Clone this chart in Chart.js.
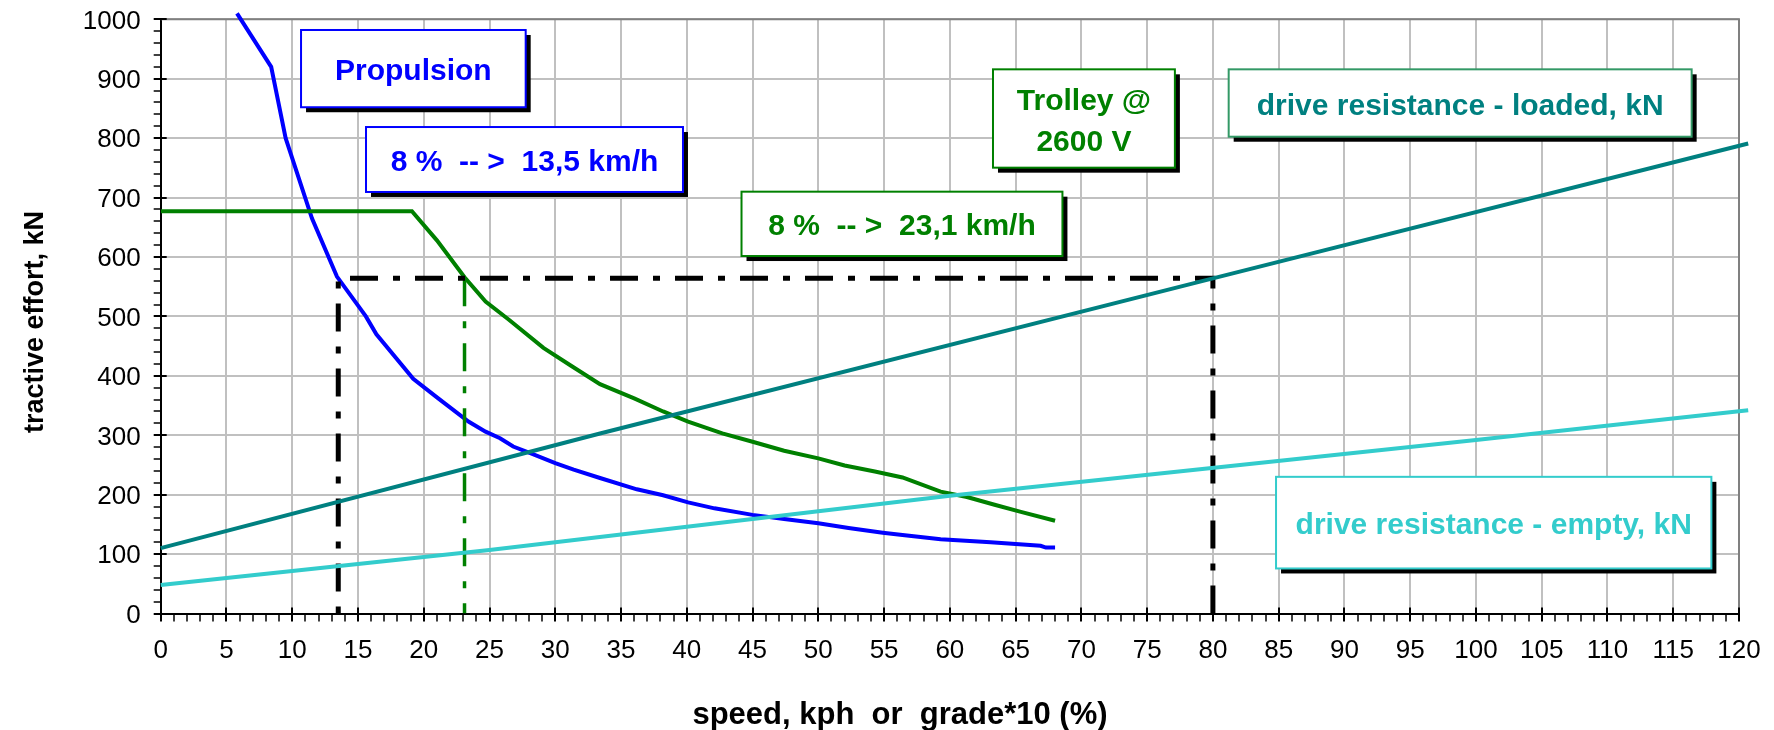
<!DOCTYPE html>
<html lang="en">
<head>
    <meta charset="UTF-8">
    <title>Tractive effort vs speed</title>
    <script src="https://cdn.jsdelivr.net/npm/chart.js"></script>
    <style>
        body {
            margin: 0;
            background-color: white;
        }
        #wrap {
            width: 1774px;
            height: 730px;
        }
    </style>
</head>
<body>
    <div id="wrap">
        <canvas id="tractionChart" width="1774" height="730"></canvas>
    </div>

    <script>
        // Data (speed in km/h, force in kN)
        const propSpeed = [5.8, 8.4, 9.5, 11.5, 13.4, 15.6, 16.4, 19.2, 21.1, 23.4, 24.7, 25.8, 26.8, 28.1, 30.0, 31.4, 33.4, 36.2, 38.2, 40.1, 42.1, 45.0, 47.4, 50.0, 52.3, 54.9, 56.4, 59.3, 63.1, 66.9, 67.3, 68.0];
        const propForce = [1010, 920, 800, 665, 567, 500, 470, 395, 362, 323, 306, 295, 281, 270, 253, 242, 228, 209, 199, 187, 177, 166, 159, 152, 144, 136, 132, 125, 120, 114, 111, 111];

        const trolleySpeed = [0, 19.1, 21.0, 23.1, 24.7, 26.5, 29.1, 31.2, 33.4, 36.0, 38.2, 40.1, 42.7, 45.0, 47.4, 50.0, 52.0, 54.3, 56.4, 59.3, 61.3, 63.4, 65.4, 68.0];
        const trolleyForce = [677, 677, 628, 566, 525, 494, 447, 417, 386, 362, 340, 323, 303, 289, 274, 261, 249, 239, 229, 205, 196, 183, 171, 156];

        const loadedSpeed = [0, 33.4, 80, 120.7];
        const loadedForce = [110, 303, 564, 791];

        const emptySpeed = [0, 25, 60, 100, 120.7];
        const emptyForce = [48, 107, 198, 292, 342];

        // 8 % grade lines: 564 kN, reached at 13,5 / 23,1 / 80 km/h
        const gradeBlackX = [80, 80, 13.5, 13.5];
        const gradeBlackY = [0, 564, 564, 0];
        const gradeGreenX = [23.1, 23.1];
        const gradeGreenY = [564, 0];

        const xTicks = { min: 0, max: 120, step: 5, minor: 1 };
        const yTicks = { min: 0, max: 1000, step: 100, minor: 20 };

        const FONT = "'Liberation Sans', Arial, sans-serif";

        function pts(xs, ys) {
            return xs.map((v, i) => ({ x: v, y: ys[i] }));
        }

        // text boxes, placed in axis units
        const notes = [
            { x0: 10.67, x1: 27.75, y0: 982, y1: 852, lines: ['Propulsion'], color: '#0000FF', border: '#0000FF' },
            { x0: 15.61, x1: 39.71, y0: 818.7, y1: 709.4, lines: ['8 %  -- >  13,5 km/h'], color: '#0000FF', border: '#0000FF' },
            { x0: 63.28, x1: 77.11, y0: 915.8, y1: 750.3, lines: ['Trolley @', '2600 V'], color: '#008000', border: '#008000' },
            { x0: 44.16, x1: 68.56, y0: 709.9, y1: 601.6, lines: ['8 %  -- >  23,1 km/h'], color: '#008000', border: '#008000' },
            { x0: 81.2, x1: 116.4, y0: 915.8, y1: 802.4, lines: ['drive resistance - loaded, kN'], color: '#008080', border: '#339966' },
            { x0: 84.8, x1: 117.9, y0: 230, y1: 75.8, lines: ['drive resistance - empty, kN'], color: '#33CCCC', border: '#33CCCC' }
        ];

        const framePlugin = {
            id: 'frame',
            beforeDatasetsDraw(chart) {
                const { ctx, chartArea: a, scales: { x, y } } = chart;
                ctx.save();
                // top and right border
                ctx.strokeStyle = '#808080';
                ctx.lineWidth = 2;
                ctx.beginPath();
                ctx.moveTo(a.left, a.top);
                ctx.lineTo(a.right, a.top);
                ctx.lineTo(a.right, a.bottom);
                ctx.stroke();

                // tick marks
                ctx.strokeStyle = '#000';
                for (let v = xTicks.min; v <= xTicks.max; v += xTicks.minor) {
                    const px = Math.round(x.getPixelForValue(v));
                    const major = v % xTicks.step === 0;
                    ctx.lineWidth = major ? 2 : 1.5;
                    ctx.beginPath();
                    ctx.moveTo(px, major ? a.bottom - 6 : a.bottom);
                    ctx.lineTo(px, a.bottom + 8);
                    ctx.stroke();
                }
                for (let v = yTicks.min; v <= yTicks.max; v += yTicks.minor) {
                    const py = Math.round(y.getPixelForValue(v));
                    const major = v % yTicks.step === 0;
                    ctx.lineWidth = major ? 2 : 1.5;
                    ctx.beginPath();
                    ctx.moveTo(a.left - 7, py);
                    ctx.lineTo(major ? a.left + 6 : a.left, py);
                    ctx.stroke();
                }

                // tick labels
                ctx.fillStyle = '#000';
                ctx.font = '26px ' + FONT;
                ctx.textBaseline = 'alphabetic';
                ctx.textAlign = 'center';
                for (let v = xTicks.min; v <= xTicks.max; v += xTicks.step) {
                    ctx.fillText(String(v), x.getPixelForValue(v), 658);
                }
                ctx.textAlign = 'right';
                for (let v = yTicks.min; v <= yTicks.max; v += yTicks.step) {
                    ctx.fillText(String(v), a.left - 20, y.getPixelForValue(v) + 9.3);
                }
                ctx.restore();
            },
            afterDatasetsDraw(chart) {
                const { ctx, scales: { x, y } } = chart;
                ctx.save();
                ctx.font = 'bold 30px ' + FONT;
                ctx.textAlign = 'center';
                ctx.textBaseline = 'alphabetic';
                notes.forEach(n => {
                    const l = x.getPixelForValue(n.x0), r = x.getPixelForValue(n.x1);
                    const t = y.getPixelForValue(n.y0), b = y.getPixelForValue(n.y1);
                    ctx.fillStyle = '#000';
                    ctx.fillRect(l + 5, t + 5, r - l, b - t);
                    ctx.fillStyle = '#fff';
                    ctx.fillRect(l, t, r - l, b - t);
                    ctx.strokeStyle = n.border;
                    ctx.lineWidth = 2;
                    ctx.strokeRect(l, t, r - l, b - t);
                    ctx.fillStyle = n.color;
                    const cx = (l + r) / 2, cy = (t + b) / 2;
                    n.lines.forEach((s, i) => {
                        ctx.fillText(s, cx, cy + 11.5 + (i - (n.lines.length - 1) / 2) * 41);
                    });
                });

                // axis titles
                ctx.fillStyle = '#000';
                ctx.font = 'bold 31px ' + FONT;
                ctx.fillText('speed, kph  or  grade*10 (%)', 900, 724);
                ctx.font = 'bold 27px ' + FONT;
                ctx.translate(43, 322);
                ctx.rotate(-Math.PI / 2);
                ctx.fillText('tractive effort, kN', 0, 0);
                ctx.restore();
            }
        };

        const lineStyle = {
            showLine: true,
            pointRadius: 0,
            pointHoverRadius: 0,
            borderWidth: 4,
            tension: 0
        };

        new Chart(document.getElementById('tractionChart'), {
            type: 'scatter',
            data: {
                datasets: [
                    { ...lineStyle, label: 'drive resistance - empty', data: pts(emptySpeed, emptyForce), borderColor: '#33CCCC', clip: false },
                    { ...lineStyle, label: 'drive resistance - loaded', data: pts(loadedSpeed, loadedForce), borderColor: '#008080', clip: false },
                    { ...lineStyle, label: '8 % grade', data: pts(gradeBlackX, gradeBlackY), borderColor: '#000000', borderWidth: 5, borderDash: [28, 15, 7, 15] },
                    { ...lineStyle, label: '8 % grade trolley', data: pts(gradeGreenX, gradeGreenY), borderColor: '#008000', borderWidth: 3.5, borderDash: [28, 15, 7, 15] },
                    { ...lineStyle, label: 'Trolley @ 2600 V', data: pts(trolleySpeed, trolleyForce), borderColor: '#008000' },
                    { ...lineStyle, label: 'Propulsion', data: pts(propSpeed, propForce), borderColor: '#0000FF', clip: { left: 0, top: 10, right: 0, bottom: 0 } }
                ]
            },
            options: {
                responsive: false,
                animation: false,
                devicePixelRatio: 1,
                layout: { padding: { left: 0, top: 19.3, right: 35, bottom: 0 } },
                plugins: {
                    legend: { display: false },
                    tooltip: { enabled: false }
                },
                scales: {
                    x: {
                        type: 'linear',
                        min: xTicks.min,
                        max: xTicks.max,
                        afterFit: s => { s.height = 116.5; },
                        ticks: { stepSize: xTicks.step, display: false },
                        grid: { color: '#C0C0C0', lineWidth: 2, drawTicks: false },
                        border: { color: '#000', width: 2 }
                    },
                    y: {
                        type: 'linear',
                        min: yTicks.min,
                        max: yTicks.max,
                        afterFit: s => { s.width = 160.7; },
                        ticks: { stepSize: yTicks.step, display: false },
                        grid: { color: '#C0C0C0', lineWidth: 2, drawTicks: false },
                        border: { color: '#000', width: 2 }
                    }
                }
            },
            plugins: [framePlugin]
        });
    </script>
</body>
</html>
